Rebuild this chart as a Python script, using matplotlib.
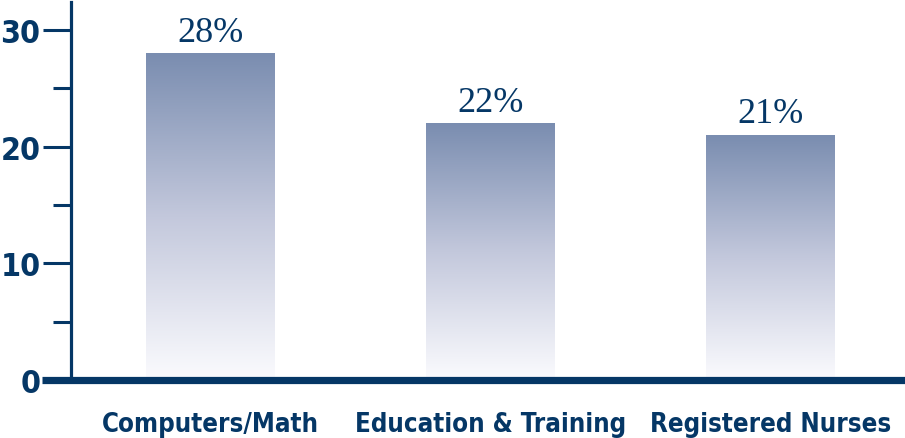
import numpy as np
import matplotlib
matplotlib.use('Agg')
import matplotlib.pyplot as plt
from matplotlib.colors import LinearSegmentedColormap

# 数据
categories = ['Computers/Math', 'Education & Training', 'Registered Nurses']
values = [28, 22, 21]
value_labels = ['28%', '22%', '21%']
yticks = [0, 10, 20, 30]

navy = '#053766'
top_col = '#7a8db0'
cmap = LinearSegmentedColormap.from_list('bar', ['#fbfbfe', '#c3c8dc', top_col])

fig = plt.figure(figsize=(9.05, 4.39), dpi=100)
ax = fig.add_axes([71 / 905, 58 / 439, 834 / 905, 378 / 439])

x = np.arange(len(categories))
bars = ax.bar(x, values, width=0.46, color='none', edgecolor='none', zorder=2)

# 渐变填充
grad = np.linspace(0, 1, 256).reshape(-1, 1)
for bar in bars:
    x0, w, h = bar.get_x(), bar.get_width(), bar.get_height()
    im = ax.imshow(grad, cmap=cmap, origin='lower', aspect='auto',
                   extent=[x0, x0 + w, 0, h], zorder=1)
    im.set_clip_path(bar)

ax.set_xlim(-0.498, 2.48)
ax.set_ylim(0, 32.4)

for xi, v, lab in zip(x, values, value_labels):
    ax.text(xi, v + 0.4, lab, ha='center', va='bottom', color=navy,
            fontsize=26, family='Liberation Serif')

# 坐标轴样式
for s in ['top', 'right', 'bottom']:
    ax.spines[s].set_visible(False)
ax.spines['left'].set_color(navy)
ax.spines['left'].set_linewidth(2.3)

ax.set_yticks(yticks)
ax.set_yticks([5, 15, 25], minor=True)
ax.tick_params(axis='y', which='major', length=20, width=2.2, color=navy, pad=2,
               labelcolor=navy, labelsize=23)
ax.tick_params(axis='y', which='minor', length=13, width=2.2, color=navy)
for t in ax.get_yticklabels():
    t.set_fontfamily('DejaVu Sans')
    t.set_fontstretch('condensed')
    t.set_fontweight('bold')

ax.set_xticks(x)
ax.set_xticklabels(categories)
ax.tick_params(axis='x', length=0, pad=22, labelcolor=navy, labelsize=18.5)
for t in ax.get_xticklabels():
    t.set_fontfamily('DejaVu Sans')
    t.set_fontstretch('condensed')
    t.set_fontweight('bold')

# 粗的 x 轴线
ax.plot([-0.6, 2.48], [0, 0], color=navy, lw=5.2, clip_on=False, zorder=3,
        solid_capstyle='butt')

fig.savefig('out.png', dpi=100)
